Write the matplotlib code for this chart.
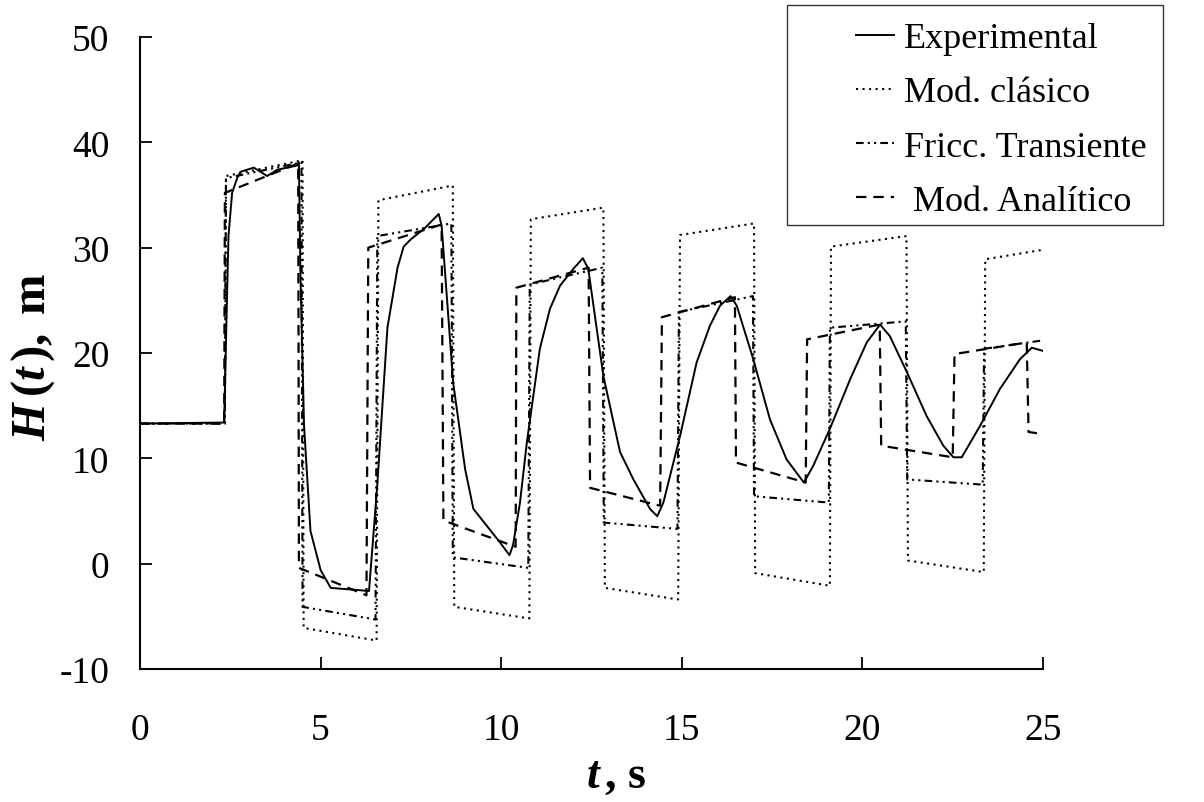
import matplotlib
matplotlib.use("Agg")
import matplotlib.pyplot as plt
from matplotlib.patches import Rectangle

plt.rcParams['font.family'] = ['Liberation Serif', 'DejaVu Serif']
plt.rcParams['mathtext.fontset'] = 'custom'
plt.rcParams['mathtext.rm'] = 'Liberation Serif'
plt.rcParams['mathtext.bf'] = 'Liberation Serif:bold'
plt.rcParams['mathtext.it'] = 'Liberation Serif:italic'
plt.rcParams['mathtext.bfit'] = 'Liberation Serif:italic:bold'
plt.rcParams['lines.scale_dashes'] = False
plt.rcParams['axes.unicode_minus'] = False

# ---------------- data ----------------
exp_t = [0, 2.33, 2.40, 2.45, 2.55, 2.69, 2.78, 3.15, 3.43, 3.52, 3.80, 4.35, 4.40,
         4.44, 4.54, 4.72, 5.00, 5.28, 6.02, 6.34, 6.57, 6.85, 7.13, 7.30, 7.50,
         7.87, 8.27, 8.35, 8.67, 9.00, 9.23, 9.60, 9.97, 10.23, 10.33, 10.52, 10.71,
         11.07, 11.35, 11.63, 12.00, 12.26, 12.41, 12.83, 13.29, 13.66, 14.12, 14.32,
         14.49, 14.95, 15.41, 15.78, 16.06, 16.35, 16.52, 16.98, 17.44, 17.90, 18.38,
         18.64, 19.10, 19.66, 20.12, 20.49, 20.76, 21.23, 21.78, 22.24, 22.52, 22.75,
         23.26, 23.81, 24.36, 24.69, 25.0]
exp_H = [13.3, 13.4, 24.0, 31.1, 35.2, 36.6, 37.2, 37.6, 37.0, 36.8, 37.4, 37.8, 38.1,
         27.8, 13.2, 3.1, -0.6, -2.3, -2.5, -2.6, 7.5, 22.4, 28.1, 30.1, 30.8,
         31.8, 33.2, 32.1, 17.2, 9.0, 5.2, 3.6, 2.0, 0.8, 1.8, 5.8, 11.5,
         20.4, 24.2, 26.4, 28.0, 29.0, 28.0, 17.8, 10.6, 8.0, 5.2, 4.5,
         5.8, 12.1, 19.1, 22.6, 24.5, 25.4, 24.5, 19.4, 13.7, 9.9, 7.7,
         9.3, 12.8, 17.5, 21.0, 22.7, 21.6, 18.2, 14.0, 11.2, 10.1, 10.1,
         13.1, 16.6, 19.4, 20.5, 20.2]

cla_t = [0, 2.35, 2.38, 4.50, 4.53, 6.55, 6.60, 8.66, 8.70, 10.78, 10.82, 12.83,
         12.87, 14.90, 14.95, 17.00, 17.03, 19.10, 19.13, 21.22, 21.26, 23.36, 23.40, 25.0]
cla_H = [13.3, 13.3, 36.8, 38.3, -6.1, -7.3, 34.5, 35.9, -4.1, -5.2, 32.7, 33.8,
         -2.3, -3.4, 31.2, 32.3, -0.9, -2.1, 30.1, 31.1, 0.3, -0.8, 28.9, 29.8]

fri_t = [0, 2.35, 2.38, 4.47, 4.50, 6.52, 6.57, 8.62, 8.66, 10.75, 10.79, 12.80,
         12.84, 14.88, 14.92, 16.97, 17.00, 19.07, 19.10, 21.20, 21.24, 23.33, 23.37, 25.0]
fri_H = [13.3, 13.3, 36.6, 38.1, -4.1, -5.3, 31.1, 32.3, 0.6, -0.4, 26.5, 28.1,
         3.9, 3.3, 23.9, 25.4, 6.4, 5.8, 22.4, 23.0, 8.0, 7.5, 20.4, 21.2]

ana_t = [0, 2.33, 2.35, 4.38, 4.40, 6.27, 6.32, 8.35, 8.40, 10.40, 10.42, 12.42,
         12.46, 14.40, 14.45, 16.47, 16.50, 18.43, 18.47, 20.48, 20.52, 22.50, 22.55,
         24.55, 24.60, 25.0]
ana_H = [13.3, 13.3, 35.2, 38.0, -0.4, -3.0, 30.0, 32.2, 4.1, 1.6, 26.2, 28.1,
         7.2, 5.5, 23.4, 25.3, 9.6, 7.7, 21.3, 22.7, 11.2, 10.1, 19.9,
         21.0, 12.5, 12.3]

labels = ['Experimental', 'Mod. clásico', 'Fricc. Transiente', ' Mod. Analítico']
x_ticks = [0, 5, 10, 15, 20, 25]
y_ticks = [-10, 0, 10, 20, 30, 40, 50]

# ---------------- figure ----------------
W, Hh = 1204, 803
fig = plt.figure(figsize=(W / 100, Hh / 100), dpi=100)
ax = fig.add_axes([140 / W, 1 - 670 / Hh, (1043 - 140) / W, (670 - 38) / Hh])

ax.plot(exp_t, exp_H, color='black', lw=1.4, linestyle='-', label=labels[0])
ax.plot(cla_t, cla_H, color='black', lw=1.5, linestyle=(0, (1.5, 3.2)), label=labels[1])
ax.plot(fri_t, fri_H, color='black', lw=1.5, linestyle=(0, (5.5, 3, 1.5, 3, 1.5, 3)), label=labels[2])
ax.plot(ana_t, ana_H, color='black', lw=1.6, linestyle=(0, (7.5, 5)), label=labels[3])

ax.set_xlim(0, 25)
ax.set_ylim(-10, 50)
ax.set_xticks(x_ticks)
ax.set_yticks(y_ticks)
ax.spines['top'].set_visible(False)
ax.spines['right'].set_visible(False)
for s in ('left', 'bottom'):
    ax.spines[s].set_linewidth(1.5)
ax.tick_params(axis='both', direction='in', length=8.5, width=1.3, labelsize=27)
ax.tick_params(axis='x', pad=31)
ax.tick_params(axis='y', pad=22)

fig.text(33 / W, 1 - 357 / Hh, r'$\mathbfit{H}\,\mathbf{(}\mathbfit{t}\,\mathbf{)}\mathbf{,\ m}$',
         rotation=90, ha='center', va='center', fontsize=35)
fig.text(616 / W, 1 - 777 / Hh, r'$\mathbfit{t}\,\mathbf{,\,s}$',
         ha='center', va='center', fontsize=33)

# legend
leg = ax.legend(loc='upper left', bbox_to_anchor=(856 / W, 1 - 23 / Hh),
                bbox_transform=fig.transFigure, frameon=False, fontsize=26,
                borderpad=0, borderaxespad=0, handlelength=1.05,
                handletextpad=0.28, labelspacing=0.58)
fig.patches.append(Rectangle((787 / W, 1 - 226 / Hh), (1163 - 787) / W, (226 - 6) / Hh,
                             transform=fig.transFigure, fill=False, edgecolor='#333333',
                             linewidth=1.0, figure=fig))

fig.savefig('out.png', dpi=100)
